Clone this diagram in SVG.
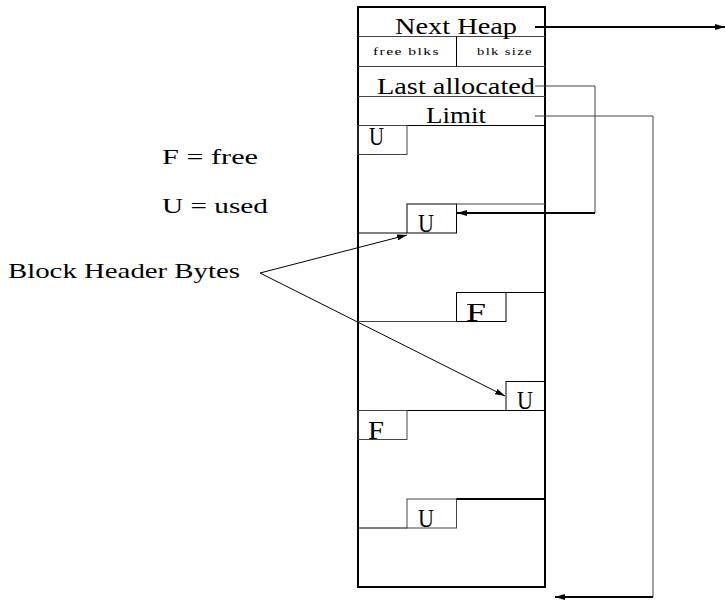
<svg xmlns="http://www.w3.org/2000/svg" width="725" height="602" viewBox="0 0 725 602">
<style>
text{font-family:"Liberation Serif","Times New Roman",serif;fill:#000}
.big{font-size:24px}
.lbl{font-size:21px}
.box{font-size:26px}
.sm{font-size:11px;letter-spacing:1px}
.thin{stroke:#000;stroke-width:1;fill:none}
.gray{stroke:#444;stroke-width:1;fill:none}
.thick{stroke:#000;stroke-width:2;fill:none}
</style>
<defs>
<marker id="ah" viewBox="0 0 10 6" refX="10" refY="3" markerWidth="10" markerHeight="6" markerUnits="userSpaceOnUse" orient="auto">
<path d="M0,0 L10,3 L0,6 z" fill="#000"/>
</marker>
</defs>
<rect width="725" height="602" fill="#fff"/>
<g id="heap">
<rect x="358" y="7" width="187" height="580" class="thick"/>
<line x1="358" y1="36.5" x2="545" y2="36.5" class="gray"/>
<line x1="358" y1="66.5" x2="545" y2="66.5" class="gray"/>
<line x1="456.5" y1="36.5" x2="456.5" y2="66.5" class="thin"/>
<line x1="358" y1="96.5" x2="545" y2="96.5" class="gray"/>
<line x1="358" y1="125.5" x2="545" y2="125.5" class="thin"/>
</g>
<g id="next-heap"><text class="big" x="395" y="34" textLength="122" lengthAdjust="spacingAndGlyphs">Next Heap</text></g>
<g id="free-blks"><text class="sm" x="373" y="55" textLength="67" lengthAdjust="spacingAndGlyphs">free blks</text></g>
<g id="blk-size"><text class="sm" x="477" y="55" textLength="56" lengthAdjust="spacingAndGlyphs">blk size</text></g>
<g id="last-allocated"><text class="big" x="377" y="94" textLength="158" lengthAdjust="spacingAndGlyphs">Last allocated</text></g>
<g id="limit"><text class="big" x="426" y="123" textLength="60" lengthAdjust="spacingAndGlyphs">Limit</text></g>
<g id="block1">
<rect x="358" y="125.5" width="49" height="29" class="gray"/>
<text class="box" x="369" y="145" textLength="15" lengthAdjust="spacingAndGlyphs">U</text>
</g>
<g id="block2">
<rect x="407" y="204" width="49.5" height="29" class="thin"/>
<line x1="456.5" y1="204" x2="545" y2="204" class="gray"/>
<line x1="358" y1="233" x2="407" y2="233" class="thin"/>
<text class="box" x="418" y="232" textLength="16" lengthAdjust="spacingAndGlyphs">U</text>
</g>
<g id="block3">
<rect x="456.5" y="292.5" width="49.5" height="29" class="thin"/>
<line x1="506" y1="292.5" x2="545" y2="292.5" class="thin"/>
<line x1="358" y1="321.5" x2="456.5" y2="321.5" class="gray"/>
<text class="box" x="466" y="321" textLength="20" lengthAdjust="spacingAndGlyphs">F</text>
</g>
<g id="block4">
<rect x="506" y="381.5" width="39" height="29" class="thin"/>
<line x1="358" y1="410.5" x2="545" y2="410.5" class="thin"/>
<text class="box" x="517" y="409" textLength="16" lengthAdjust="spacingAndGlyphs">U</text>
</g>
<g id="block5">
<rect x="358" y="410.5" width="49" height="29" class="gray"/>
<text class="box" x="368" y="439" textLength="16" lengthAdjust="spacingAndGlyphs">F</text>
</g>
<g id="block6">
<rect x="407" y="499" width="49.5" height="29" class="gray"/>
<line x1="456.5" y1="499" x2="545" y2="499" class="thick"/>
<line x1="358" y1="528" x2="407" y2="528" class="thin"/>
<text class="box" x="418" y="527" textLength="16" lengthAdjust="spacingAndGlyphs">U</text>
</g>
<g id="legend-f"><text class="lbl" x="162" y="164" textLength="96" lengthAdjust="spacingAndGlyphs">F = free</text></g>
<g id="legend-u"><text class="lbl" x="162" y="213" textLength="106" lengthAdjust="spacingAndGlyphs">U = used</text></g>
<g id="block-header-bytes"><text class="lbl" x="8" y="278" textLength="232" lengthAdjust="spacingAndGlyphs">Block Header Bytes</text></g>
<g id="connectors">
<line x1="535" y1="27" x2="725" y2="27" class="thick" marker-end="url(#ah)"/>
<polyline points="535,86 595,86 595,213" class="gray"/>
<line x1="595" y1="213" x2="457" y2="213" class="thick" marker-end="url(#ah)"/>
<polyline points="535,116 653,116 653,597" class="gray"/>
<line x1="653" y1="597" x2="555" y2="597" class="thick" marker-end="url(#ah)"/>
<line x1="260" y1="273" x2="407" y2="235" class="thin" marker-end="url(#ah)"/>
<line x1="260" y1="273" x2="505" y2="396" class="thin" marker-end="url(#ah)"/>
</g>
</svg>
